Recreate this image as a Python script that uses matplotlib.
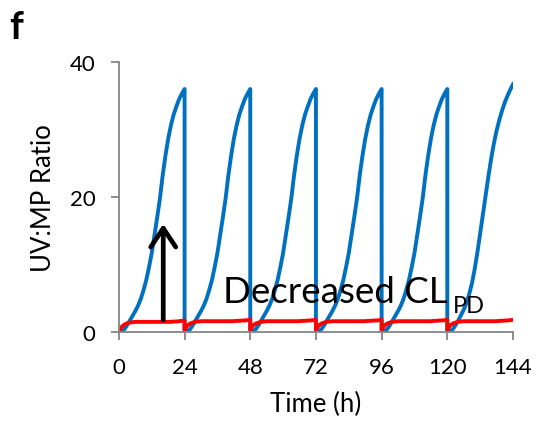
import matplotlib
matplotlib.use("Agg")
import matplotlib.pyplot as plt
import numpy as np

# hours into each 24 h dosing interval
cycle_hours = [0, 1, 2, 3, 4, 5, 6, 7, 8, 9, 10, 11, 12,
               13, 14, 15, 16, 17, 18, 19, 20, 21, 22, 23, 24]
dose_times = [0, 24, 48, 72, 96, 120]

# blue: UV:MP ratio, baseline CL_PD (cycles 1-5 and last cycle)
blue_cycle = [0, 0.1, 0.4, 1.0, 1.7, 2.4, 3.1, 3.9, 4.9, 6.2, 7.7, 9.6, 11.7,
              14.3, 17.0, 19.8, 23.2, 26.1, 28.6, 30.6, 32.2, 33.4, 34.5, 35.3, 36.0]
blue_last = [0, 0.1, 0.4, 1.0, 1.7, 2.5, 3.3, 4.3, 5.6, 7.2, 9.3, 11.8, 14.6,
             17.5, 20.3, 23.0, 25.6, 27.9, 29.8, 31.4, 32.8, 34.0, 35.0, 35.9, 36.7]

# red: UV:MP ratio with decreased CL_PD
red_first = [0, 0.75, 1.1, 1.3, 1.4, 1.45, 1.5, 1.5, 1.5, 1.5, 1.5, 1.5, 1.5,
             1.5, 1.5, 1.5, 1.5, 1.5, 1.5, 1.5, 1.55, 1.55, 1.6, 1.65, 1.7]
red_repeat = [0.3, 0.95, 1.25, 1.4, 1.5, 1.55, 1.6, 1.6, 1.6, 1.6, 1.6, 1.6, 1.6,
              1.6, 1.6, 1.6, 1.6, 1.6, 1.6, 1.65, 1.65, 1.7, 1.7, 1.75, 1.8]

x_ticks = [0, 24, 48, 72, 96, 120, 144]
y_ticks = [0, 20, 40]

plt.rcParams['font.family'] = ['Lato', 'DejaVu Sans']

t_all, blue_all, red_all = [], [], []
for i, d in enumerate(dose_times):
    b = blue_last if i == len(dose_times) - 1 else blue_cycle
    r = red_first if i == 0 else red_repeat
    t_all += [d + h for h in cycle_hours]
    blue_all += b
    red_all += r

fig = plt.figure(figsize=(5.38, 4.31), dpi=100)
ax = fig.add_axes([0.221, 0.2274, 0.7325, 0.6264])

ax.plot(t_all, blue_all, color='#0070C0', lw=2.8, solid_joinstyle='round')
ax.plot(t_all, red_all, color='#FF0000', lw=2.8, solid_joinstyle='round')

ax.annotate('', xy=(16.2, 16.0), xytext=(16.2, 1.8),
            arrowprops=dict(arrowstyle='->,head_length=0.45,head_width=0.3',
                            lw=3.4, color='black', mutation_scale=30,
                            shrinkA=0, shrinkB=0))
ax.text(37.9, 4.4, 'Decreased CL', fontsize=26.5, va='baseline', ha='left')
ax.text(122.0, 2.9, 'PD', fontsize=17, va='baseline', ha='left')

ax.set_xlim(0, 144)
ax.set_ylim(0, 40)
ax.set_xticks(x_ticks)
ax.set_yticks(y_ticks)
for s in ['top', 'right']:
    ax.spines[s].set_visible(False)
for s in ['left', 'bottom']:
    ax.spines[s].set_color('#868686')
    ax.spines[s].set_linewidth(1.3)
ax.tick_params(direction='out', length=6, width=1.3, color='#868686',
               labelsize=16)
ax.tick_params(axis='y', pad=11)
ax.tick_params(axis='x', pad=12)
ax.set_xlabel('Time (h)', fontsize=18.5, labelpad=10)
ax.set_ylabel('UV:MP Ratio', fontsize=18.5, labelpad=10)

fig.text(0.018, 0.91, 'f', fontsize=28, fontweight='bold')

fig.savefig('out.png', dpi=100)
